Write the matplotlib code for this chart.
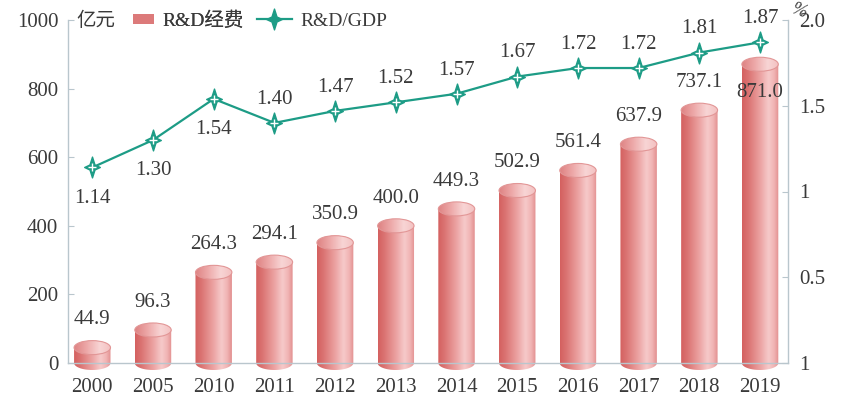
import numpy as np
import matplotlib
matplotlib.use("Agg")
import matplotlib.pyplot as plt
from matplotlib.path import Path
from matplotlib.patches import PathPatch, Ellipse, Patch
from matplotlib.lines import Line2D
from matplotlib.colors import LinearSegmentedColormap
from matplotlib.font_manager import FontProperties

# ---- data ----
years = ['2000', '2005', '2010', '2011', '2012', '2013', '2014', '2015', '2016', '2017', '2018', '2019']
rd_spend = [44.9, 96.3, 264.3, 294.1, 350.9, 400.0, 449.3, 502.9, 561.4, 637.9, 737.1, 871.0]
rd_gdp = [1.14, 1.30, 1.54, 1.40, 1.47, 1.52, 1.57, 1.67, 1.72, 1.72, 1.81, 1.87]
left_ticks = [0, 200, 400, 600, 800, 1000]
right_ticks = [0, 0.5, 1.0, 1.5, 2.0]
right_tick_labels = ['1', '0.5', '1', '1.5', '2.0']
unit_left = '亿元'
unit_right = '%'
legend_bar = 'R&D经费'
legend_line = 'R&D/GDP'

# ---- style ----
serif = 'Liberation Serif'
mixed = [serif, 'Noto Sans CJK SC']
txt_col = '#3a3a3a'
ax_col = '#b9c6cd'
teal = '#1d9c86'
body_cmap = LinearSegmentedColormap.from_list(
    'body', [(0.0, '#d4605f'), (0.18, '#db7473'), (0.5, '#eca3a3'),
             (0.72, '#f6caca'), (0.88, '#f0b2b2'), (1.0, '#e28e8e')])
top_cmap = LinearSegmentedColormap.from_list(
    'top', [(0.0, '#de8282'), (0.35, '#eda9a9'), (0.7, '#f8d5d5'), (1.0, '#f3c0c0')])

W, H = 845, 408
fig = plt.figure(figsize=(W / 100, H / 100), dpi=100)
ax = fig.add_axes([68 / W, 1 - 363 / H, (788 - 68) / W, (363 - 20) / H])
ax.set_xlim(-0.4, 11.46)
ax.set_ylim(0, 1000)

x = np.arange(len(years))
bw = 0.6
bars = ax.bar(x, rd_spend, width=bw, color='none', edgecolor='none', zorder=2)

px_per_unit = ax.get_position().height * H / 1000.0
eh = 14 / px_per_unit  # ellipse height in data units

grad = np.linspace(0, 1, 256).reshape(1, -1)
for rect in bars:
    x0 = rect.get_x()
    w = rect.get_width()
    x1 = x0 + w
    xc = x0 + w / 2
    h = rect.get_height()
    t = np.linspace(np.pi, 2 * np.pi, 40)
    verts = [(x0, h), (x0, 0)] + [(xc + w / 2 * np.cos(tt), eh / 2 * np.sin(tt)) for tt in t] + [(x1, h), (x0, h)]
    codes = [Path.MOVETO] + [Path.LINETO] * (len(verts) - 2) + [Path.CLOSEPOLY]
    body = PathPatch(Path(verts, codes), transform=ax.transData, facecolor='none', edgecolor='none')
    im = ax.imshow(grad, extent=(x0, x1, -eh, h + eh), aspect='auto', cmap=body_cmap,
                   interpolation='bicubic', zorder=2, clip_path=body)
    im.set_clip_box(fig.bbox)
    top = Ellipse((xc, h), w, eh, transform=ax.transData, facecolor='none', edgecolor='none')
    im2 = ax.imshow(grad, extent=(x0, x1, h - eh, h + eh), aspect='auto', cmap=top_cmap,
                    interpolation='bicubic', zorder=3, clip_path=top)
    im2.set_clip_box(fig.bbox)
    ax.add_patch(Ellipse((xc, h), w, eh, facecolor='none', edgecolor='#e29696', lw=0.8, zorder=3))

ax.set_xlim(-0.4, 11.46)
ax.set_ylim(0, 1000)

for i, v in enumerate(rd_spend):
    off = -20 if i == len(rd_spend) - 1 else 20
    ax.annotate(f'{v:.1f}', (x[i], v), xytext=(0, off), textcoords='offset points',
                ha='center', va='center', fontsize=15, family=serif, color=txt_col, zorder=5)

ax.set_xticks(x, years)
ax.set_yticks(left_ticks)
ax.tick_params(axis='x', length=0, pad=11, labelsize=15, labelcolor=txt_col)
ax.tick_params(axis='y', direction='in', length=4, color=ax_col, pad=7, labelsize=15, labelcolor=txt_col)
for lab in ax.get_xticklabels() + ax.get_yticklabels():
    lab.set_family(serif)
for s in ['top', 'right']:
    ax.spines[s].set_visible(False)
for s in ['left', 'bottom']:
    ax.spines[s].set_color(ax_col)
    ax.spines[s].set_linewidth(1)

# ---- line on right axis ----
ax2 = ax.twinx()
ax2.set_ylim(0, 2.0)
star = Path([(0, 1), (0.24, 0.24), (0.75, 0), (0.24, -0.24), (0, -1), (-0.24, -0.24), (-0.75, 0), (-0.24, 0.24), (0, 1)],
            [Path.MOVETO] + [Path.LINETO] * 7 + [Path.CLOSEPOLY])
ax2.plot(x, rd_gdp, color=teal, lw=1.6, marker=star, ms=15, mec=teal, mfc=teal, zorder=4)
ax2.plot(x, rd_gdp, ls='none', marker='+', color='white', ms=6, mew=1.0, zorder=5)
for i, v in enumerate(rd_gdp):
    off = -22 if i < 3 else 17
    ax2.annotate(f'{v:.2f}', (x[i], v), xytext=(0, off), textcoords='offset points',
                 ha='center', va='center', fontsize=15, family=serif, color=txt_col, zorder=6)
ax2.set_yticks(right_ticks, right_tick_labels)
ax2.tick_params(axis='y', direction='in', length=4, color=ax_col, pad=8, labelsize=15, labelcolor=txt_col)
for lab in ax2.get_yticklabels():
    lab.set_family(serif)
for s in ['top', 'left', 'bottom']:
    ax2.spines[s].set_visible(False)
ax2.spines['right'].set_color(ax_col)
ax2.spines['right'].set_linewidth(1)

# ---- units and legend ----
fig.text(76 / W, 1 - 20 / H, unit_left, ha='left', va='center', fontsize=14,
         family=['Noto Sans CJK SC', serif], color=txt_col)
fig.text(790 / W, 1 - 11 / H, unit_right, ha='left', va='center', fontsize=13,
         family=serif, style='italic', rotation=-20, color=txt_col)

lp = FontProperties(family=mixed, size=14)
leg1 = fig.legend(handles=[Patch(facecolor='#dc7a7a', edgecolor='none')], labels=[legend_bar],
                  loc='center left', bbox_to_anchor=(116 / W, 1 - 21 / H), frameon=False, prop=lp,
                  handlelength=1.05, handleheight=0.45, handletextpad=0.45, labelcolor=txt_col)
fig.add_artist(leg1)
fig.legend(handles=[Line2D([], [], color=teal, lw=1.6, marker=star, ms=15)], labels=[legend_line],
           loc='center left', bbox_to_anchor=(239 / W, 1 - 21 / H), frameon=False, prop=lp,
           handlelength=1.85, handletextpad=0.4, labelcolor=txt_col)

fig.savefig('out.png', dpi=100)
